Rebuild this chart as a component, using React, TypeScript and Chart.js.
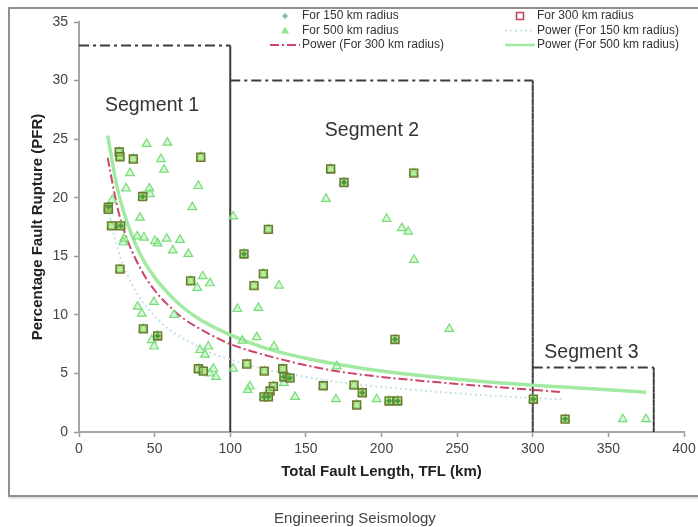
import React, { useEffect, useRef } from 'react';
import { Chart, registerables } from 'chart.js';

Chart.register(...registerables);

// ---------- data ----------
const xTickRange = [0, 400];
const xTickStep = 50;
const yTickRange = [0, 35];
const yTickStep = 5;

const xTitle = 'Total Fault Length, TFL (km)';
const yTitle = 'Percentage Fault Rupture (PFR)';
const footerText = 'Engineering Seismology';

const seriesLabels = [
  'For 150 km radius',
  'For 300 km radius',
  'For 500 km radius',
  'Power (For 150 km radius)',
  'Power (For 300 km radius)',
  'Power (For 500 km radius)',
];

// For 300 km radius (squares)
const sq300X = [19.4, 19.4, 26.6, 27.1, 35.9, 21.5, 27.6, 27.1, 42.1, 42.5, 52.0, 80.5, 73.8, 78.9, 82.2,
  109.1, 125.2, 121.9, 115.7, 110.9, 122.5, 134.7, 135.5, 139.5, 128.5, 126.3, 122.3, 125.2,
  166.4, 175.2, 221.3, 208.9, 161.5, 181.8, 187.3, 183.6, 205.0, 210.7, 300.4, 321.4];
const sq300Y = [19.2, 19.0, 23.9, 23.5, 23.3, 17.6, 17.6, 13.9, 20.1, 8.8, 8.2, 23.45, 12.9, 5.4, 5.2,
  15.2, 17.3, 13.5, 12.5, 5.8, 5.2, 5.4, 4.7, 4.6, 3.9, 3.5, 3.0, 3.0,
  22.45, 21.3, 22.1, 7.9, 3.95, 4.0, 3.35, 2.3, 2.65, 2.65, 2.8, 1.1];

// For 150 km radius (diamonds)
const dia150X = [19.4, 27.6, 42.1, 52.0, 109.1, 175.2, 208.9, 187.3, 122.3, 125.2, 135.5, 139.5, 205.0, 210.7, 300.4, 321.4];
const dia150Y = [19.2, 17.6, 20.1, 8.2, 15.2, 21.3, 7.9, 3.35, 3.0, 3.0, 4.7, 4.6, 2.65, 2.65, 2.8, 1.1];

// For 500 km radius (triangles, in addition to the 300 km points)
const tri500X = [44.7, 58.4, 54.2, 56.2, 33.7, 31.1, 46.5, 47.0, 78.9, 74.9, 40.3, 22.0, 29.8, 29.3, 38.5, 43.0,
  50.2, 52.0, 58.0, 62.0, 66.8, 72.3, 81.8, 86.6, 78.2, 38.8, 41.5, 49.6, 62.8, 48.1, 49.6, 80.0, 83.3, 85.5,
  86.6, 90.6, 88.8, 102.0, 132.2, 104.7, 118.6, 117.5, 108.0, 128.9, 102.0, 113.0, 111.5, 142.8, 170.4, 169.9,
  196.8, 163.3, 203.4, 213.4, 217.7, 221.5, 244.8, 135.5, 359.5, 374.9];
const tri500Y = [24.6, 24.7, 23.3, 22.4, 22.1, 20.8, 20.8, 20.3, 21.0, 19.2, 18.3, 19.8, 16.5, 16.2, 16.7, 16.6,
  16.3, 16.1, 16.5, 15.5, 16.4, 15.2, 13.3, 12.7, 12.3, 10.7, 10.1, 11.1, 10.0, 7.85, 7.3, 7.0, 6.6, 7.3,
  5.0, 4.7, 5.4, 18.4, 12.5, 10.5, 10.6, 8.1, 7.8, 7.3, 5.4, 3.9, 3.6, 3.0, 5.6, 2.8,
  2.8, 19.9, 18.2, 17.4, 17.1, 14.7, 8.8, 4.2, 1.1, 1.1];

// Power trend lines
const fit150X = [19, 25, 30, 40, 50, 60, 70, 80, 90, 100, 125, 150, 175, 200, 250, 300, 320];
const fit150Y = [19.1, 15.9, 14.0, 11.5, 9.9, 8.7, 7.9, 7.2, 6.6, 6.2, 5.3, 4.7, 4.2, 3.85, 3.3, 2.9, 2.8];
const fit300X = [19, 25, 30, 40, 50, 60, 70, 80, 90, 100, 125, 150, 175, 200, 250, 300, 320];
const fit300Y = [23.4, 19.4, 17.1, 14.1, 12.1, 10.7, 9.6, 8.8, 8.1, 7.5, 6.5, 5.7, 5.1, 4.7, 4.1, 3.6, 3.4];
const fit500X = [19, 25, 30, 40, 50, 60, 70, 80, 90, 100, 125, 150, 175, 200, 250, 300, 350, 375];
const fit500Y = [25.3, 21.0, 18.6, 15.3, 13.2, 11.7, 10.5, 9.6, 8.9, 8.3, 7.1, 6.3, 5.7, 5.2, 4.5, 4.0, 3.6, 3.4];

// Segment boxes
const seg1X = [0, 100, 100];
const seg1Y = [33, 33, 0];
const seg2X = [100, 300, 300];
const seg2Y = [30, 30, 0];
const seg3X = [300, 380, 380];
const seg3Y = [5.5, 5.5, 0];
const segLabels = ['Segment 1', 'Segment 2', 'Segment 3'];
const segLabelX = [48.3, 193.7, 338.8];
const segLabelY = [27.9, 25.7, 6.8];

// ---------- helpers ----------
const pts = (xs: number[], ys: number[]) => xs.map((x, i) => ({ x, y: ys[i] }));
const FONT = "'Liberation Sans', Arial, Helvetica, sans-serif";

const segDataset = (xs: number[], ys: number[]) => ({
  label: '',
  data: pts(xs, ys),
  showLine: true,
  pointRadius: 0,
  borderColor: '#3c3c3c',
  borderWidth: 2,
  fill: false,
  order: 20,
  segment: {
    borderDash: (ctx: any) =>
      Math.abs(ctx.p0.parsed.y - ctx.p1.parsed.y) < 1e-9 ? [10, 4, 3, 4] : [4, 3],
  },
});

const overlayPlugin = {
  id: 'overlay',
  afterDatasetsDraw(chart: any) {
    const { ctx } = chart;
    const xs = chart.scales.x;
    const ys = chart.scales.y;
    ctx.save();
    ctx.font = `19.5px ${FONT}`;
    ctx.fillStyle = '#333';
    ctx.textAlign = 'center';
    ctx.textBaseline = 'middle';
    segLabels.forEach((t, i) => {
      ctx.fillText(t, xs.getPixelForValue(segLabelX[i]), ys.getPixelForValue(segLabelY[i]));
    });
    ctx.restore();
  },
  afterDraw(chart: any) {
    const { ctx } = chart;
    const ds = chart.data.datasets;
    const colText = [302, 537];
    const rowY = [16, 30.5, 45];
    const items = [
      { i: 0, c: 0, r: 0 },
      { i: 2, c: 0, r: 1 },
      { i: 4, c: 0, r: 2 },
      { i: 1, c: 1, r: 0 },
      { i: 3, c: 1, r: 1 },
      { i: 5, c: 1, r: 2 },
    ];
    ctx.save();
    items.forEach(({ i, c, r }) => {
      const d = ds[i];
      const tx = colText[c];
      const y = rowY[r];
      const mx = tx - 17;
      ctx.save();
      if (d.showLine) {
        ctx.beginPath();
        ctx.strokeStyle = d.borderColor;
        ctx.lineWidth = Math.min(d.borderWidth, 2.5);
        ctx.setLineDash(d.borderDash || []);
        ctx.moveTo(tx - 32, y);
        ctx.lineTo(tx - 2, y);
        ctx.stroke();
      } else if (d.pointStyle === 'rectRot') {
        ctx.fillStyle = '#8fbc8f';
        ctx.beginPath();
        ctx.moveTo(mx, y - 3);
        ctx.lineTo(mx + 3, y);
        ctx.lineTo(mx, y + 3);
        ctx.lineTo(mx - 3, y);
        ctx.closePath();
        ctx.fill();
      } else if (d.pointStyle === 'rect') {
        ctx.strokeStyle = '#c0405a';
        ctx.lineWidth = 1.5;
        ctx.strokeRect(mx - 3.5, y - 3.5, 7, 7);
      } else {
        ctx.fillStyle = '#8fe88f';
        ctx.beginPath();
        ctx.moveTo(mx, y - 4);
        ctx.lineTo(mx + 4, y + 3);
        ctx.lineTo(mx - 4, y + 3);
        ctx.closePath();
        ctx.fill();
      }
      ctx.restore();
      ctx.font = `12px ${FONT}`;
      ctx.fillStyle = '#333';
      ctx.textAlign = 'left';
      ctx.textBaseline = 'middle';
      ctx.fillText(d.label, tx, y);
    });
    ctx.restore();
  },
};

export default function App() {
  const ref = useRef<HTMLCanvasElement | null>(null);

  useEffect(() => {
    if (!ref.current) return;
    Chart.defaults.font.family = FONT;
    const chart = new Chart(ref.current, {
      type: 'scatter',
      data: {
        datasets: [
          {
            label: seriesLabels[0],
            data: pts(dia150X, dia150Y),
            pointStyle: 'rectRot',
            pointRadius: 2.5,
            backgroundColor: '#4f9a3c',
            borderColor: '#4f9a3c',
            borderWidth: 1,
            order: 0,
          },
          {
            label: seriesLabels[1],
            data: pts(sq300X, sq300Y),
            pointStyle: 'rect',
            pointRadius: 5.5,
            backgroundColor: 'rgba(160,225,110,0.5)',
            borderColor: '#6d7c32',
            borderWidth: 1.6,
            order: 1,
          },
          {
            label: seriesLabels[2],
            data: [...pts(sq300X, sq300Y), ...pts(tri500X, tri500Y)],
            pointStyle: 'triangle',
            pointRadius: 5,
            backgroundColor: 'rgba(170,240,170,0.45)',
            borderColor: '#77dd77',
            borderWidth: 1.2,
            order: 2,
          },
          {
            label: seriesLabels[3],
            data: pts(fit150X, fit150Y),
            showLine: true,
            pointRadius: 0,
            borderColor: '#c6e0ec',
            borderWidth: 2,
            borderDash: [2, 3],
            cubicInterpolationMode: 'monotone',
            order: 5,
          },
          {
            label: seriesLabels[4],
            data: pts(fit300X, fit300Y),
            showLine: true,
            pointRadius: 0,
            borderColor: '#cc4466',
            borderWidth: 2,
            borderDash: [9, 3, 2, 3],
            cubicInterpolationMode: 'monotone',
            order: 3,
          },
          {
            label: seriesLabels[5],
            data: pts(fit500X, fit500Y),
            showLine: true,
            pointRadius: 0,
            borderColor: '#a2eaa2',
            borderWidth: 3.5,
            cubicInterpolationMode: 'monotone',
            order: 4,
          },
          segDataset(seg1X, seg1Y),
          segDataset(seg2X, seg2Y),
          segDataset(seg3X, seg3Y),
        ] as any,
      },
      options: {
        responsive: false,
        maintainAspectRatio: false,
        animation: false,
        devicePixelRatio: 1,
        layout: { padding: { left: 0, right: 14, top: 22, bottom: 0 } },
        plugins: {
          legend: { display: false },
          tooltip: { enabled: false },
        },
        scales: {
          x: {
            type: 'linear',
            min: xTickRange[0],
            max: xTickRange[1],
            ticks: { stepSize: xTickStep, color: '#444', font: { size: 14 }, padding: 4 },
            grid: { drawOnChartArea: false, drawTicks: true, tickLength: 5, color: '#999', tickWidth: 1.5 },
            border: { display: true, color: '#a6a6a6', width: 2 },
            title: {
              display: true,
              text: xTitle,
              color: '#222',
              font: { size: 15, weight: 'bold' },
              padding: { top: 0, bottom: 46 },
            },
            afterFit: (s: any) => {
              s.height = 95;
              s.paddingRight = 0;
              s.paddingLeft = 0;
            },
          },
          y: {
            type: 'linear',
            min: yTickRange[0],
            max: yTickRange[1],
            ticks: { stepSize: yTickStep, color: '#444', font: { size: 14 }, padding: 6 },
            grid: { drawOnChartArea: false, drawTicks: true, tickLength: 5, color: '#999', tickWidth: 1.5 },
            border: { display: true, color: '#a6a6a6', width: 2 },
            title: {
              display: true,
              text: yTitle,
              color: '#222',
              font: { size: 15, weight: 'bold' },
              padding: { top: 29, bottom: 0 },
            },
            afterFit: (s: any) => {
              s.width = 79;
            },
          },
        },
      } as any,
      plugins: [overlayPlugin],
    });
    return () => chart.destroy();
  }, []);

  return (
    <div
      style={{
        position: 'fixed',
        left: 0,
        top: 0,
        width: 698,
        height: 527,
        background: '#fff',
        overflow: 'hidden',
        fontFamily: FONT,
      }}
    >
      <div
        style={{
          position: 'absolute',
          left: 8,
          top: 7,
          width: 730,
          height: 486,
          border: '2px solid #8f8f8f',
          boxShadow: '1px 1px 2px #c8c8c8',
        }}
      />
      <canvas
        ref={ref}
        width={698}
        height={527}
        style={{ position: 'absolute', left: 0, top: 0, width: 698, height: 527, display: 'block' }}
      />
      <div
        style={{
          position: 'absolute',
          left: 0,
          width: 710,
          top: 509,
          lineHeight: '18px',
          fontSize: 15,
          color: '#444',
          textAlign: 'center',
        }}
      >
        {footerText}
      </div>
    </div>
  );
}
